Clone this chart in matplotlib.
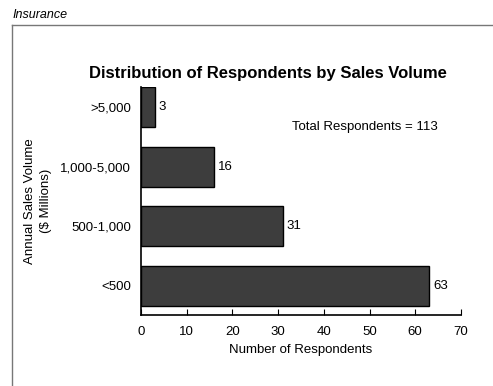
import matplotlib
matplotlib.use("Agg")
import matplotlib.pyplot as plt
from matplotlib.lines import Line2D

plt.rcParams['font.family'] = ['Liberation Sans', 'DejaVu Sans']

categories = ["<500", "500-1,000", "1,000-5,000", ">5,000"]
counts = [63, 31, 16, 3]
total = 113

fig = plt.figure(figsize=(4.93, 3.86), dpi=100)
ax = fig.add_axes([0.286, 0.184, 0.649, 0.591])

pos = range(len(categories))
ax.barh(pos, counts, height=0.67, color="#3d3d3d", edgecolor="black", linewidth=1)
for p, v in zip(pos, counts):
    ax.text(v + 0.9, p, str(v), va="center", ha="left", fontsize=9.5)

ax.set_xlim(0, 70)
ax.set_ylim(-0.49, 3.34)
ax.set_xticks(range(0, 71, 10))
ax.set_yticks(list(pos))
ax.set_yticklabels(categories, fontsize=9.5)
ax.tick_params(axis="x", direction="in", length=4, labelsize=9.5, pad=8)
ax.tick_params(axis="y", length=0, pad=7)
for s in ["top", "right"]:
    ax.spines[s].set_visible(False)
ax.spines["left"].set_linewidth(1.2)
ax.spines["bottom"].set_linewidth(1.2)

ax.set_xlabel("Number of Respondents", fontsize=9.5, labelpad=4)
ax.set_ylabel("Annual Sales Volume\n($ Millions)", fontsize=9.5, labelpad=6,
              linespacing=1.5)
ax.text(33, 2.66, f"Total Respondents = {total}", fontsize=9.5, va="center")

fig.text(0.544, 0.81, "Distribution of Respondents by Sales Volume",
         ha="center", va="center", fontsize=12, fontweight="bold")
fig.text(0.026, 0.962, "Insurance", ha="left", va="center", fontsize=9, style="italic")

# outer frame
fig.add_artist(Line2D([0.024, 0.024], [0.0, 0.935], color="#777777", lw=1))
fig.add_artist(Line2D([0.024, 0.998], [0.935, 0.935], color="#777777", lw=1))

fig.savefig("out.png", dpi=100)
